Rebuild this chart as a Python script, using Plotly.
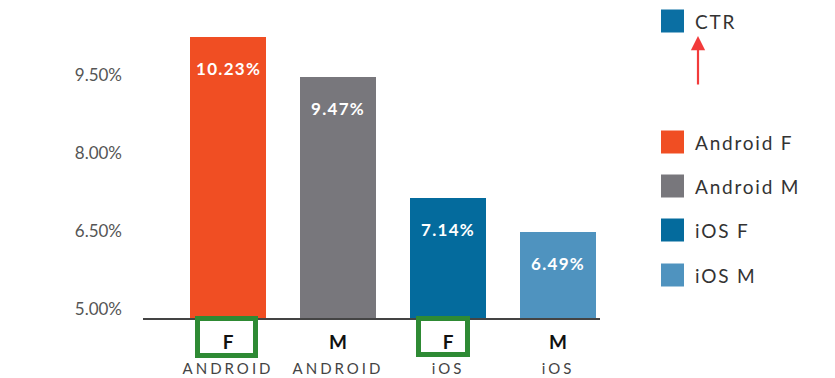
import plotly.graph_objects as go

categories = ["Android F", "Android M", "iOS F", "iOS M"]
gender_labels = ["F", "M", "F", "M"]
platform_labels = ["ANDROID", "ANDROID", "iOS", "iOS"]
ctr_values = [10.23, 9.47, 7.14, 6.49]
colors = ["#F04E23", "#78777C", "#046B9D", "#4F93BF"]
tick_vals = [5.0, 6.5, 8.0, 9.5]
tick_text = ["5.00%", "6.50%", "8.00%", "9.50%"]
legend_title = "CTR"
legend_title_color = "#0B6FA3"

# the page shows the figure with an 8px body margin; design in page pixels
OFF = 8
W, H = 835, 378
L, R_edge, T, B_edge = 143, 600, 20, 318   # plot area in page pixels
FONT = "Lato, 'Open Sans', sans-serif"

def px(xp):
    return (xp - L) / (R_edge - L)

def py(yp):
    return (B_edge - yp) / (B_edge - T)

x_pos = list(range(len(categories)))

fig = go.Figure()
fig.add_trace(go.Bar(
    x=x_pos, y=ctr_values, marker=dict(color=colors, line=dict(width=0)),
    width=0.69, showlegend=False, hoverinfo="skip"))

# value labels inside bars
for xi, v in zip(x_pos, ctr_values):
    fig.add_annotation(x=xi, y=v, showarrow=False,
                       text=f"<span style='letter-spacing:1.3px'><b>{v:.2f}%</b></span>",
                       yanchor="top", yshift=-19,
                       font=dict(family=FONT, size=17, color="white"))

ticktext_x = [f"<b>{g}</b><br><span style='font-size:15px;color:#444;letter-spacing:3px'>{p}</span>"
              for g, p in zip(gender_labels, platform_labels)]

fig.update_layout(
    width=W, height=H,
    margin=dict(l=L - OFF, r=W - (R_edge - OFF), t=T - OFF, b=H - (B_edge - OFF),
                autoexpand=False),
    plot_bgcolor="white", paper_bgcolor="white",
    bargap=0,
    xaxis=dict(range=[-0.773, 3.382], tickmode="array", tickvals=x_pos,
               ticktext=ticktext_x, showline=True, linecolor="#444",
               linewidth=2, showgrid=False, zeroline=False, ticks="",
               ticklabelstandoff=6, automargin=False,
               tickfont=dict(family=FONT, size=19, color="#111")),
    yaxis=dict(range=[4.83, 10.56], tickmode="array", tickvals=tick_vals,
               ticktext=tick_text, showgrid=False, zeroline=False,
               showline=False, ticks="", ticklabelstandoff=20, automargin=False,
               tickfont=dict(family=FONT, size=17, color="#555")),
)

# green highlight boxes around the "F" labels
for (x0, x1, y0, y1) in [(197.5, 255.5, 318.5, 355.5), (418.5, 467.5, 318.5, 354.5)]:
    fig.add_shape(type="rect", xref="paper", yref="paper",
                  x0=px(x0), x1=px(x1), y0=py(y1), y1=py(y0),
                  line=dict(color="#2E8A34", width=5), fillcolor="rgba(0,0,0,0)")

# custom legend
legend_items = [(legend_title, legend_title_color, 21)] + \
    [(c, col, yc) for c, col, yc in zip(categories, colors, [142, 186, 230, 275])]
for name, col, yc in legend_items:
    fig.add_shape(type="rect", xref="paper", yref="paper",
                  x0=px(661), x1=px(684), y0=py(yc + 11.5), y1=py(yc - 11.5),
                  line=dict(width=0), fillcolor=col)
    fig.add_annotation(xref="paper", yref="paper", x=px(693), y=py(yc),
                       text=f"<span style='letter-spacing:1.8px'>{name}</span>",
                       showarrow=False, xanchor="left", yanchor="middle",
                       font=dict(family=FONT, size=19, color="#333"))

# red arrow pointing to CTR
fig.add_annotation(xref="paper", yref="paper", x=px(698), y=py(36), text="",
                   showarrow=True, ax=0, ay=50, arrowhead=2, arrowsize=1.3,
                   arrowwidth=2.2, arrowcolor="#F23B3B")

fig.write_html("out.html", config={"displayModeBar": False})
